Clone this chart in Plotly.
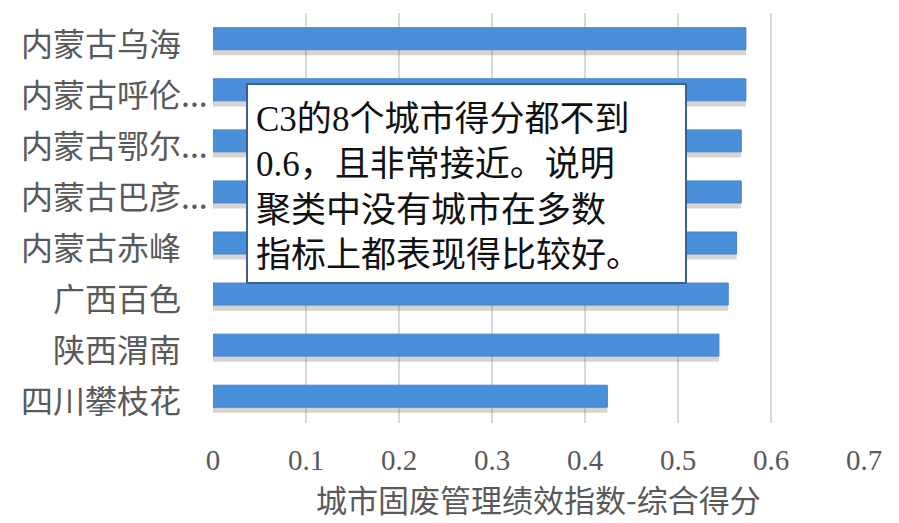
import plotly.graph_objects as go

# Cluster C3 cities and their composite solid-waste management scores
cities = ["内蒙古乌海", "内蒙古呼伦...", "内蒙古鄂尔...", "内蒙古巴彦...",
          "内蒙古赤峰", "广西百色", "陕西渭南", "四川攀枝花"]
scores = [0.573, 0.573, 0.568, 0.568, 0.563, 0.554, 0.544, 0.424]
x_ticks = [0, 0.1, 0.2, 0.3, 0.4, 0.5, 0.6, 0.7]
x_tick_text = ["0", "0.1", "0.2", "0.3", "0.4", "0.5", "0.6", "0.7"]

CJK = "Noto Sans CJK SC"
SERIF = "'Liberation Serif', 'Times New Roman', serif"
GREY = "#595959"

fig = go.Figure()

# soft drop shadow under each bar
fig.add_trace(go.Bar(
    x=scores, y=cities, orientation="h",
    marker=dict(color="rgba(115,100,85,0.28)", line=dict(width=0)),
    width=0.46, offset=-0.16, hoverinfo="skip", showlegend=False,
))
fig.add_trace(go.Bar(
    x=scores, y=cities, orientation="h",
    marker=dict(color="#4a8fda", line=dict(color="#4382cf", width=1)),
    width=0.43, offset=-0.24, showlegend=False,
))

# category labels: truncated names let their ellipsis overhang the label column
for name in cities:
    overhang = 27 if name.endswith("...") else 0
    fig.add_annotation(
        x=0, y=name, xref="paper", yref="y", xanchor="right", yanchor="middle",
        xshift=-30 + overhang, yshift=-2, text=name, showarrow=False,
        font=dict(family=CJK, size=32, color=GREY),
    )

note = ("<span style=\"font-family:'Liberation Serif'\">C3</span>的"
        "<span style=\"font-family:'Liberation Serif'\">8</span>个城市得分都不到<br>"
        "<span style=\"font-family:'Liberation Serif'\">0.6</span>，且非常接近。说明<br>"
        "聚类中没有城市在多数<br>"
        "指标上都表现得比较好。")

fig.add_annotation(
    x=0.035, y=0.829, xref="x", yref="paper", xanchor="left", yanchor="top",
    text=note, showarrow=False, align="left", valign="middle",
    width=421, height=181,
    font=dict(family=CJK, size=35, color="#111111"),
    bgcolor="white", bordercolor="#3c5f95", borderwidth=2, borderpad=8,
)

fig.update_layout(
    width=899, height=523,
    margin=dict(l=213, r=35, t=13, b=100),
    paper_bgcolor="white", plot_bgcolor="white",
    barmode="overlay",
    xaxis=dict(
        range=[0, 0.7], tickvals=x_ticks, ticktext=x_tick_text,
        showgrid=True, gridcolor="#d9d9d9", gridwidth=1.5,
        zeroline=False, showline=False, ticks="",
        ticklabelstandoff=17,
        tickfont=dict(family=SERIF, size=29, color=GREY),
        title=dict(text="城市固废管理绩效指数-综合得分",
                   font=dict(family=CJK, size=31, color=GREY), standoff=9),
    ),
    yaxis=dict(
        categoryorder="array", categoryarray=cities, autorange="reversed",
        showgrid=False, zeroline=False, showline=False, ticks="",
        showticklabels=False,
    ),
)

fig.write_html("out.html")
